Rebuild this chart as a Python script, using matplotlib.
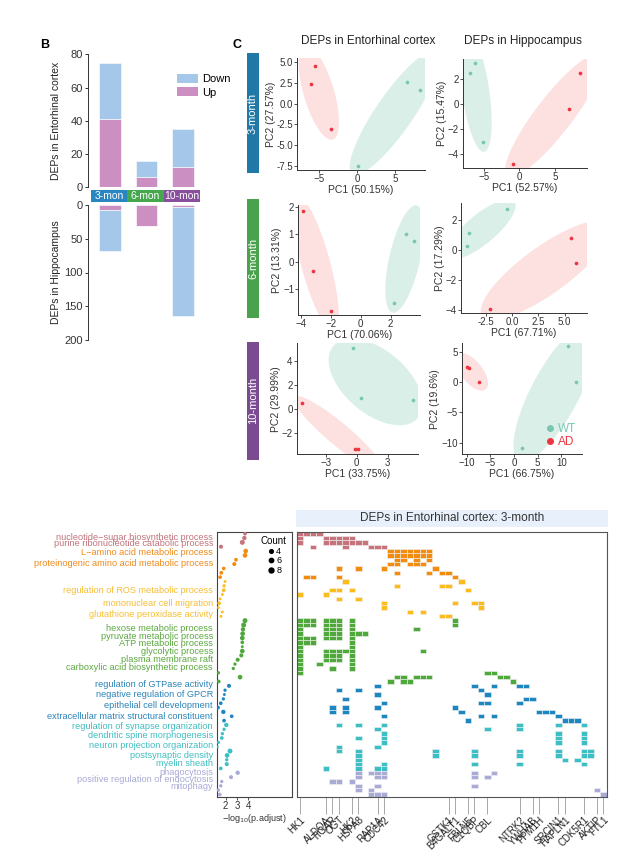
import numpy as np
import matplotlib
matplotlib.use("Agg")
import matplotlib.pyplot as plt
import matplotlib.transforms as mtransforms
from matplotlib.patches import Rectangle, Patch
from matplotlib.lines import Line2D
from matplotlib.ticker import FormatStrFormatter

plt.rcParams['font.family'] = ['Liberation Sans', 'DejaVu Sans']
plt.rcParams['axes.unicode_minus'] = True

# ---------------- DATA ----------------
# Panel B
months_short = ['3-mon', '6-mon', '10-mon']
ec_up = [41, 6, 12]
ec_down = [34, 10, 23]
hc_up = [8, 31, 3]
hc_down = [60, 0, 162]

# Panel C (PCA scores); order: AD, AD, AD, WT, WT, WT
sample_group = ['AD', 'AD', 'AD', 'WT', 'WT', 'WT']
ec3_pc1 = [-5.6, -6.1, -3.5, 6.5, 8.2, 0.1]
ec3_pc2 = [4.6, 2.4, -3.0, 2.6, 1.7, -7.5]
hc3_pc1 = [8.5, 7.0, -0.85, -6.3, -7.0, -5.1]
hc3_pc2 = [2.5, -0.4, -4.8, 3.3, 2.5, -3.0]
ec6_pc1 = [-3.83, -3.18, -1.98, 3.0, 3.53, 2.24]
ec6_pc2 = [1.87, -0.34, -1.79, 1.03, 0.77, -1.5]
hc6_pc1 = [5.57, 6.08, -2.09, -0.5, -4.05, -4.3]
hc6_pc2 = [0.78, -0.89, -3.93, 2.73, 1.11, 0.27]
ec10_pc1 = [-5.32, -0.16, 0.16, -0.33, 0.39, 5.42]
ec10_pc2 = [0.48, -3.38, -3.38, 5.09, 0.95, 0.75]
hc10_pc1 = [-10.0, -9.47, -7.35, 11.5, 13.1, 1.63]
hc10_pc2 = [2.63, 2.47, 0.13, 5.97, 0.03, -10.97]
pc_var = {'ec3': (50.15, 27.57), 'hc3': (52.57, 15.47), 'ec6': (70.06, 13.31),
          'hc6': (67.71, 17.29), 'ec10': (33.75, 29.99), 'hc10': (66.75, 19.6)}
row_month = ['3-month', '6-month', '10-month']

# Bottom panel: GO terms x genes
term_labels = ['nucleotide\u2212sugar biosynthetic process', 'purine ribonucleotide catabolic process',
               'L\u2212amino acid metabolic process', 'proteinogenic amino acid metabolic process',
               'regulation of ROS metabolic process', 'mononuclear cell migration',
               'glutathione peroxidase activity', 'hexose metabolic process',
               'pyruvate metabolic process', 'ATP metabolic process', 'glycolytic process',
               'plasma membrane raft', 'carboxylic acid biosynthetic process',
               'regulation of GTPase activity', 'negative regulation of GPCR',
               'epithelial cell development', 'extracellular matrix structural constituent',
               'regulation of synapse organization', 'dendritic spine morphogenesis',
               'neuron projection organization', 'postsynaptic density', 'myelin sheath',
               'phagocytosis', 'positive regulation of endocytosis', 'mitophagy']
term_label_row = [1.33, 2.71, 4.87, 7.40, 13.68, 16.51, 19.20, 22.41, 24.25, 25.79, 27.63,
                  29.38, 31.22, 35.22, 37.59, 40.11, 42.64, 44.87, 47.01, 49.24, 51.45,
                  53.45, 55.52, 56.97, 58.67]
term_label_group = [0, 0, 1, 1, 2, 2, 2, 3, 3, 3, 3, 3, 3, 4, 4, 4, 4, 5, 5, 5, 5, 5, 6, 6, 6]
group_sizes = [4, 7, 9, 15, 9, 11, 6]
group_colors = ['#c7737b', '#f28c0f', '#fdbc1e', '#4ea83a', '#1b86c0', '#3cbfc4', '#a9abd6']
label_colors = ['#c0737c', '#ef8a1a', '#f8bd33', '#5aa83f', '#2a83b8', '#40bdc1', '#a8aad5']
n_genes = 48
gene_names = ['HK1', 'ALDOA', 'TIGAR', 'OGT', 'HK2', 'HSPA8', 'RAP1A', 'CDC42', 'GSTK1',
              'B4GALT1', 'FBLN5', 'C1QBP', 'CBL', 'NTRK2', 'YWHAB', 'PPM1H', 'SRCIN1',
              'HAPLN1', 'CDK5R1', 'AKTIP', 'FTL1']
gene_cols = [0, 4, 5, 6, 8, 9, 12, 13, 23, 24, 26, 27, 29, 34, 36, 37, 40, 41, 44, 46, 47]
heat_cells = [
    [0, 1, 2, 3], [0, 4, 5, 6, 7, 8], [0, 4, 5, 6, 7, 8, 9, 10], [2, 7, 11, 12, 13],
    [14, 15, 16, 17, 18, 19, 20], [14, 15, 16, 17, 18, 19, 20], [15, 16, 18, 20],
    [14, 15, 17, 18, 19], [6, 9, 13, 21], [15, 20, 22, 23], [1, 2, 6, 24],
    [7, 25], [15, 22, 23], [5, 6, 8, 26], [0, 4], [6, 9], [13, 24, 27, 28], [13, 28],
    [17, 19], [22, 23],
    [0, 1, 2, 4, 5, 6, 8, 24], [0, 1, 2, 4, 5, 6, 8, 24], [0, 4, 5, 6, 8, 18],
    [0, 4, 5, 6, 8, 9, 10], [0, 1, 2, 4, 5, 6, 8], [0, 1, 2, 8], [0, 8],
    [0, 4, 5, 6, 7, 8, 19], [0, 4, 5, 6, 8], [0, 4, 5, 6, 8], [0, 3, 8], [0, 5, 8],
    [0, 29, 30], [15, 16, 18, 19, 20, 31, 32], [14, 16, 17, 33],
    [12, 27, 30, 34, 35], [6, 9, 28], [12, 29], [7, 35, 36], [13, 28, 29, 34],
    [5, 7, 12, 24], [5, 7, 25, 37, 38, 39], [13, 28, 30, 40], [26, 41, 42, 43],
    [6, 9, 13, 34, 40, 44], [12, 29, 34], [13, 40, 44], [9, 13, 40, 44], [13, 40, 44],
    [6, 12], [6, 9, 21, 27, 34, 40, 44, 45], [9, 21, 27, 34, 40, 44, 45], [9, 41, 43],
    [9, 13, 27, 34, 44], [4, 9, 12, 13],
    [9, 11, 12, 13, 27, 30], [9, 12, 13, 27, 29], [5, 6, 8], [9, 12, 27], [9, 11, 46],
    [11, 12, 13, 47]]
dot_logp = [3.71, 3.65, 3.47, 1.58, 3.77, 3.71, 2.91, 2.76, 1.82, 1.61, 1.50, 1.94, 1.85,
            1.82, 1.70, 1.50, 1.41, 1.35, 1.70, 1.58, 3.71, 3.59, 3.53, 3.50, 3.47, 3.47,
            3.47, 3.47, 3.38, 3.06, 2.82, 2.67, 1.35, 3.27, 1.38, 2.29, 1.94, 1.88, 1.79,
            1.56, 1.32, 1.79, 2.53, 1.85, 2.05, 1.85, 1.70, 1.65, 1.35, 1.26, 2.38, 2.12,
            2.09, 2.09, 1.56, 3.06, 2.47, 1.65, 1.56, 1.35, 1.47]
count_legend = [4, 6, 8]

# ---------------- FIGURE ----------------
W, H = 640, 865
fig = plt.figure(figsize=(W / 100, H / 100), dpi=100)


def ax_px(l, t, r, b):
    return fig.add_axes([l / W, 1 - b / H, (r - l) / W, (b - t) / H])


def fig_text(x, y, s, **kw):
    return fig.text(x / W, 1 - y / H, s, **kw)


def fig_rect(l, t, r, b, color):
    fig.add_artist(Rectangle((l / W, 1 - b / H), (r - l) / W, (b - t) / H,
                             transform=fig.transFigure, facecolor=color, edgecolor='none'))


down_col = '#a5c7e9'
up_col = '#cb8fc2'
month_cols_b = ['#2a86c1', '#45a84d', '#874f9c']
month_cols_c = ['#1f78a6', '#4aa24c', '#7b4b92']
dark = '#222222'

fig_text(45, 45, 'B', fontsize=9, fontweight='bold', ha='center', va='center')
fig_text(237, 45, 'C', fontsize=9, fontweight='bold', ha='center', va='center')

# ---- Panel B ----
xpos = np.arange(len(months_short))
bw = 0.59
axu = ax_px(88.3, 54.3, 215, 187.3)
axu.bar(xpos, ec_up, width=bw, color=up_col, edgecolor='white', linewidth=0.4)
axu.bar(xpos, ec_down, width=bw, bottom=ec_up, color=down_col, edgecolor='white', linewidth=0.4)
axu.set_xlim(-0.6, 2.88)
axu.set_ylim(0, 80)
axu.set_yticks([0, 20, 40, 60, 80])
axu.set_xticks([])
for s in ['top', 'right', 'bottom']:
    axu.spines[s].set_visible(False)
axu.spines['left'].set_color('#333333')
axu.spines['left'].set_linewidth(0.7)
axu.tick_params(axis='y', labelsize=8, length=2.5, width=0.7, colors='#333333', pad=1.5)

axl = ax_px(88.3, 205, 215, 340)
axl.bar(xpos, hc_up, width=bw, color=up_col, edgecolor='white', linewidth=0.4)
axl.bar(xpos, hc_down, width=bw, bottom=hc_up, color=down_col, edgecolor='white', linewidth=0.4)
axl.set_xlim(-0.6, 2.88)
axl.set_ylim(200, 0)
axl.set_yticks([0, 50, 100, 150, 200])
axl.set_xticks([])
for s in ['top', 'right', 'bottom']:
    axl.spines[s].set_visible(False)
axl.spines['left'].set_color('#333333')
axl.spines['left'].set_linewidth(0.7)
axl.tick_params(axis='y', labelsize=8, length=2.5, width=0.7, colors='#333333', pad=1.5)

axm = ax_px(88.3, 190, 215, 201.7)
axm.set_xlim(-0.6, 2.88)
axm.set_ylim(0, 1)
axm.axis('off')
for i, (lab, c) in enumerate(zip(months_short, month_cols_b)):
    axm.add_patch(Rectangle((i - 0.53, 0), 1.0, 1, facecolor=c, edgecolor='none'))
    axm.text(i - 0.03, 0.45, lab, color='white', fontsize=7.5, ha='center', va='center')

fig_text(56, 121, 'DEPs in Entorhinal cortex', rotation=90, fontsize=7.5, ha='center',
         va='center', color=dark)
fig_text(56, 272, 'DEPs in Hippocampus', rotation=90, fontsize=7.5, ha='center',
         va='center', color=dark)
fig.legend(handles=[Patch(facecolor=down_col), Patch(facecolor=up_col)], labels=['Down', 'Up'],
           loc='upper left', bbox_to_anchor=(177 / W, 1 - 74 / H), bbox_transform=fig.transFigure,
           frameon=False, fontsize=8, handlelength=1.9, handleheight=0.9, labelspacing=0.25,
           handletextpad=0.4, borderpad=0, borderaxespad=0)

# ---- Panel C ----
ad_col = '#ec3540'
wt_col = '#78c7b1'
ad_fill = '#fde1e1'
wt_fill = '#dbefe9'

fig_text(368, 41, 'DEPs in Entorhinal cortex', fontsize=8.5, ha='center', va='center', color=dark)
fig_text(523, 41, 'DEPs in Hippocampus', fontsize=8.5, ha='center', va='center', color=dark)

box_rows = [(53.3, 173.3), (199.3, 318.3), (341.7, 460)]
for (t, b), lab, c in zip(box_rows, row_month, month_cols_c):
    fig_rect(246.7, t, 259.3, b, c)
    fig_text(253, (t + b) / 2, lab, rotation=90, color='white', fontsize=8, ha='center', va='center')


def enclosing_ellipse(ax, xs, ys, color, margin=10.0):
    pts = ax.transData.transform(np.column_stack([xs, ys]))
    m = pts.mean(axis=0)
    C = np.cov(pts.T, bias=True)
    ev, evec = np.linalg.eigh(C)
    semi = np.sqrt(2 * np.clip(ev, 0, None)) + margin
    t = np.linspace(0, 2 * np.pi, 200)
    circ = np.vstack([np.cos(t), np.sin(t)])
    ell = m + (evec @ np.diag(semi) @ circ).T
    d = ax.transData.inverted().transform(ell)
    ax.fill(d[:, 0], d[:, 1], color=color, lw=0, zorder=1)


pca_panels = [
    ('ec3', ec3_pc1, ec3_pc2, (297.3, 58.3, 425, 170), (-7.9, 8.9), (-8.0, 5.48),
     [-5, 0, 5], [-7.5, -5, -2.5, 0, 2.5, 5], None, '%.1f'),
    ('hc3', hc3_pc1, hc3_pc2, (462.7, 59.3, 586.7, 168.3), (-7.97, 9.49), (-5.14, 3.58),
     [-5, 0, 5], [-4, -2, 0, 2], None, None),
    ('ec6', ec6_pc1, ec6_pc2, (298.3, 205, 420, 315), (-4.16, 3.95), (-1.95, 2.08),
     [-4, -2, 0, 2], [-1, 0, 1, 2], None, None),
    ('hc6', hc6_pc1, hc6_pc2, (461, 203.3, 586.7, 313.3), (-4.84, 7.09), (-4.22, 3.11),
     [-2.5, 0, 2.5, 5], [-4, -2, 0, 2], '%.1f', None),
    ('ec10', ec10_pc1, ec10_pc2, (296.7, 343.3, 418.3, 454), (-5.81, 5.96), (-3.77, 5.5),
     [-3, 0, 3], [-2, 0, 2, 4], None, None),
    ('hc10', hc10_pc1, hc10_pc2, (461.7, 343.3, 581.7, 454), (-11.08, 14.3), (-11.9, 6.5),
     [-10, -5, 0, 5, 10], [-10, -5, 0, 5], None, None),
]
grp = np.array(sample_group)
for key, p1, p2, rect, xl, yl, xt, yt, xf, yf in pca_panels:
    ax = ax_px(*rect)
    ax.set_xlim(*xl)
    ax.set_ylim(*yl)
    p1 = np.array(p1)
    p2 = np.array(p2)
    for g, fc in [('AD', ad_fill), ('WT', wt_fill)]:
        sel = grp == g
        enclosing_ellipse(ax, p1[sel], p2[sel], fc)
    for g, pc in [('AD', ad_col), ('WT', wt_col)]:
        sel = grp == g
        ax.scatter(p1[sel], p2[sel], s=7, color=pc, zorder=3, linewidths=0)
    ax.set_xticks(xt)
    ax.set_yticks(yt)
    if xf:
        ax.xaxis.set_major_formatter(FormatStrFormatter(xf))
    if yf:
        ax.yaxis.set_major_formatter(FormatStrFormatter(yf))
    for s in ['top', 'right']:
        ax.spines[s].set_visible(False)
    for s in ['left', 'bottom']:
        ax.spines[s].set_color('#333333')
        ax.spines[s].set_linewidth(0.7)
    ax.tick_params(labelsize=7, length=2, width=0.6, colors='#333333', pad=1)
    v1, v2 = pc_var[key]
    ax.set_xlabel(f'PC1 ({v1}%)', fontsize=7.5, color='#333333', labelpad=0.5)
    ax.set_ylabel(f'PC2 ({v2}%)', fontsize=7.5, color='#333333', labelpad=0.5)
    if key == 'hc10':
        hnd = [Line2D([], [], marker='o', ls='', color=wt_col, markersize=4),
               Line2D([], [], marker='o', ls='', color=ad_col, markersize=4)]
        ax.legend(hnd, ['WT', 'AD'], labelcolor=[wt_col, ad_col], loc='lower right',
                  frameon=False, fontsize=8.5, handletextpad=0.1, borderaxespad=0.1,
                  labelspacing=0.1, handlelength=1.0)

# ---- Bottom: dot plot + heatmap ----
n_rows = len(heat_cells)
row_group = np.repeat(np.arange(len(group_sizes)), group_sizes)
row_count = np.array([len(c) for c in heat_cells])

axd = ax_px(216.7, 531.5, 291.7, 796.7)
axd.set_xlim(1.2, 7.85)
axd.set_ylim(n_rows, 0)
dot_colors = [group_colors[g] for g in row_group]
axd.scatter(dot_logp, np.arange(n_rows) + 0.5, s=1.5 + 1.4 * row_count, c=dot_colors,
            linewidths=0, zorder=3)
axd.set_yticks([])
axd.set_xticks([2, 3, 4])
for s in axd.spines.values():
    s.set_color('#444444')
    s.set_linewidth(0.8)
axd.tick_params(axis='x', labelsize=7, length=2, width=0.6, colors='#333333', pad=1)
axd.set_xlabel('\u2212log$_{10}$(p.adjust)', fontsize=6.5, color='#333333', labelpad=1)
hnd = [Line2D([], [], marker='o', ls='', color='black', markersize=np.sqrt(1.5 + 1.4 * c))
       for c in count_legend]
axd.legend(hnd, [str(c) for c in count_legend], title='Count', loc='upper right',
           frameon=False, fontsize=6.5, title_fontsize=7, handletextpad=0.1,
           labelspacing=0.05, borderaxespad=0.15, handlelength=1.0)

lab_tr = mtransforms.blended_transform_factory(fig.transFigure, axd.transData)
for lab, yr, g in zip(term_labels, term_label_row, term_label_group):
    axd.text(213 / W, yr, lab, transform=lab_tr, ha='right', va='center', fontsize=6.6,
             color=label_colors[g], clip_on=False)

axh = ax_px(297, 531.5, 606.7, 796.7)
for r, cols in enumerate(heat_cells):
    cols = np.array(cols)
    axh.bar(cols + 0.5, np.ones(len(cols)), bottom=r, width=1.0,
            color=group_colors[row_group[r]], edgecolor='#f2f2f2', linewidth=0.4)
axh.set_xlim(0, n_genes)
axh.set_ylim(n_rows, 0)
axh.set_yticks([])
axh.set_xticks(np.array(gene_cols) + 0.5)
axh.set_xticklabels(gene_names, rotation=45, ha='right', va='top', rotation_mode='anchor',
                    fontsize=7, color='#222222')
axh.tick_params(axis='x', length=12, width=0.6, color='#9a9a9a', pad=1)
for s in axh.spines.values():
    s.set_color('#555555')
    s.set_linewidth(0.8)

axt = ax_px(296, 510, 608, 526.7)
axt.set_facecolor('#e8f1fb')
axt.set_xticks([])
axt.set_yticks([])
for s in axt.spines.values():
    s.set_visible(False)
axt.text(0.5, 0.5, 'DEPs in Entorhinal cortex: 3-month', ha='center', va='center',
         fontsize=8.5, color='#333333', transform=axt.transAxes)

fig.savefig('out.png', dpi=100)
